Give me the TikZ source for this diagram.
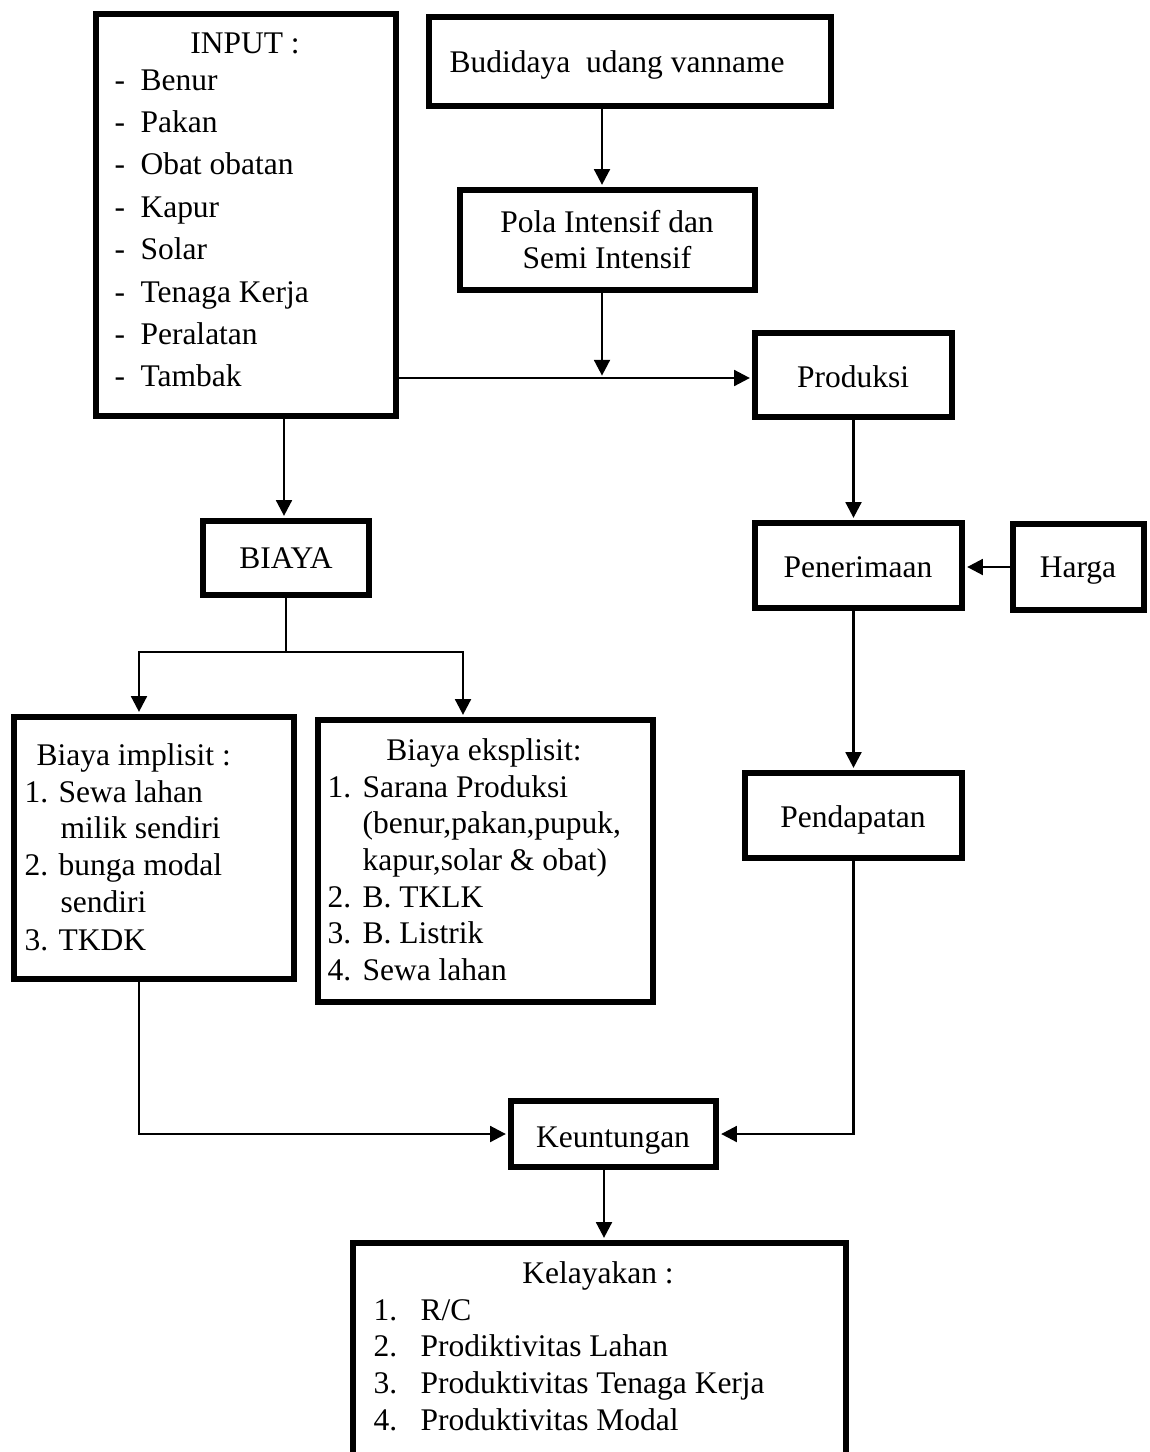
\documentclass[tikz,border=0pt]{standalone}
\usepackage{fontspec}
\setmainfont{Liberation Serif}
\usetikzlibrary{positioning,arrows.meta,fit}

\tikzset{
  kotak/.style={draw, line width=2.1pt, inner sep=0pt},
  teks/.style={inner sep=0pt, font=\fontsize{12}{14}\selectfont},
  garis/.style={line width=1pt},
  panah/.style={line width=1pt, shorten >=0.9pt, -{Triangle[length=6pt,width=6pt]}},
}

\begin{document}
\begin{tikzpicture}[x=0.381pt,y=-0.381pt]
\useasboundingbox (0,0) rectangle (1149,1452);
\clip (0,0) rectangle (1149,1452);

% kotak-kotak
\node[kotak, fit={(96,14) (396,416)}] (input) {};
\node[kotak, fit={(429,17) (831,106)}] (budidaya) {};
\node[kotak, fit={(460,190) (755,290)}] (pola) {};
\node[kotak, fit={(755,333) (952,417)}] (produksi) {};
\node[kotak, fit={(203,521) (369,595)}] (biaya) {};
\node[kotak, fit={(755,523) (962,608)}] (penerimaan) {};
\node[kotak, fit={(1013,524) (1144,610)}] (harga) {};
\node[kotak, fit={(14,717) (294,979)}] (implisit) {};
\node[kotak, fit={(318,720) (653,1002)}] (eksplisit) {};
\node[kotak, fit={(745,773) (962,858)}] (pendapatan) {};
\node[kotak, fit={(511,1101) (716,1167)}] (keuntungan) {};
\node[kotak, fit={(353,1243) (846,1475)}] (kelayakan) {};

% isi INPUT
\node[teks, anchor=base] (input-judul) at (245,53) {INPUT :};
\foreach \t [count=\i] in {Benur,Pakan,Obat obatan,Kapur,Solar,Tenaga Kerja,Peralatan,Tambak}{
  \node[teks, anchor=base west] (input-s\i) at (114,{90+42.4*(\i-1)}) {-};
  \node[teks, anchor=base west] (input-\i) at (140,{90+42.4*(\i-1)}) {\t};
}

% isi kotak tunggal
\node[teks, anchor=base west] (budidaya-t) at (449,72) {Budidaya\ \ udang vanname};
\node[teks, anchor=base] (pola-1) at (607,232) {Pola Intensif dan};
\node[teks, anchor=base] (pola-2) at (607,268) {Semi Intensif};
\node[teks, anchor=base] (produksi-t) at (853,387) {Produksi};
\node[teks, anchor=base] (biaya-t) at (286,568) {BIAYA};
\node[teks, anchor=base] (penerimaan-t) at (858,577) {Penerimaan};
\node[teks, anchor=base] (harga-t) at (1078,577) {Harga};
\node[teks, anchor=base] (pendapatan-t) at (853,827) {Pendapatan};
\node[teks, anchor=base] (keuntungan-t) at (613,1147) {Keuntungan};

% isi biaya implisit
\node[teks, anchor=base west] (impl-judul) at (36,765) {Biaya implisit :};
\node[teks, anchor=base west] (impl-1) at (24,802) {1. Sewa lahan};
\node[teks, anchor=base west] (impl-1b) at (60,838) {milik sendiri};
\node[teks, anchor=base west] (impl-2) at (24,875) {2. bunga modal};
\node[teks, anchor=base west] (impl-2b) at (60,912) {sendiri};
\node[teks, anchor=base west] (impl-3) at (24,950) {3. TKDK};

% isi biaya eksplisit
\node[teks, anchor=base] (eksp-judul) at (484,760) {Biaya eksplisit:};
\node[teks, anchor=base west] (eksp-n1) at (327,797) {1.};
\node[teks, anchor=base west] (eksp-1) at (362,797) {Sarana Produksi};
\node[teks, anchor=base west] (eksp-1b) at (362,833) {(benur,pakan,pupuk,};
\node[teks, anchor=base west] (eksp-1c) at (362,870) {kapur,solar \& obat)};
\node[teks, anchor=base west] (eksp-n2) at (327,907) {2.};
\node[teks, anchor=base west] (eksp-2) at (362,907) {B. TKLK};
\node[teks, anchor=base west] (eksp-n3) at (327,943) {3.};
\node[teks, anchor=base west] (eksp-3) at (362,943) {B. Listrik};
\node[teks, anchor=base west] (eksp-n4) at (327,980) {4.};
\node[teks, anchor=base west] (eksp-4) at (362,980) {Sewa lahan};

% isi kelayakan
\node[teks, anchor=base] (layak-judul) at (598,1283) {Kelayakan :};
\foreach \t [count=\i] in {R/C,Prodiktivitas Lahan,Produktivitas Tenaga Kerja,Produktivitas Modal}{
  \node[teks, anchor=base west] (layak-n\i) at (373,{1320+36.7*(\i-1)}) {\i.};
  \node[teks, anchor=base west] (layak-\i) at (420,{1320+36.7*(\i-1)}) {\t};
}

% jalur panah
\coordinate (temu) at (602,378);
\coordinate (cabang) at (286,652);
\coordinate (jalur-biaya) at (284,0);
\coordinate (jalur-impl) at (139,0);
\coordinate (jalur-eksp) at (463,0);
\coordinate (jalur-hasil) at (604,0);

\draw[panah] (budidaya.south -| temu) -- (pola.north -| temu);
\draw[panah] (pola.south -| temu) -- (temu);
\draw[panah] (input.east |- temu) -- (produksi.west |- temu);
\draw[panah] (produksi.south) -- (produksi.south |- penerimaan.north);
\draw[panah] (harga.west) -- (harga.west -| penerimaan.east);
\draw[panah] (penerimaan.south -| pendapatan) -- (pendapatan.north);
\draw[panah] (input.south -| jalur-biaya) -- (biaya.north -| jalur-biaya);
\draw[garis] (biaya.south) -- (cabang);
\draw[panah] (cabang) -| (implisit.north -| jalur-impl);
\draw[panah] (cabang) -| (eksplisit.north -| jalur-eksp);
\draw[panah] (implisit.south -| jalur-impl) |- (keuntungan.west);
\draw[panah] (pendapatan.south) |- (keuntungan.east);
\draw[panah] (keuntungan.south -| jalur-hasil) -- (kelayakan.north -| jalur-hasil);
\end{tikzpicture}
\end{document}
